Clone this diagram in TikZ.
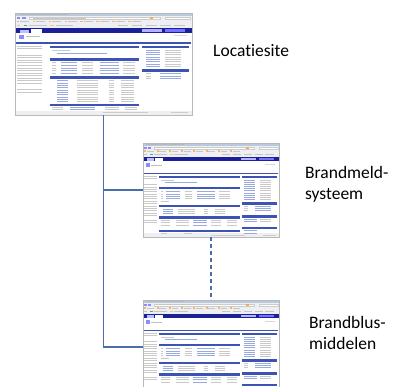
\documentclass[tikz,border=0pt]{standalone}
\usepackage{fontspec}
\setmainfont{Carlito}[Ligatures=NoCommon]
\definecolor{navy}{HTML}{1B2096}
\definecolor{hdr}{HTML}{3C52B5}
\definecolor{conn}{HTML}{4A6EAA}
\definecolor{titleb}{HTML}{B9C9DE}
\definecolor{toolb}{HTML}{EDEFF3}
\definecolor{lnk}{HTML}{7F95D6}
\tikzset{
  txt/.style={fill=gray!42},
  lk/.style={fill=lnk!80},
  hd/.style={fill=hdr},
  pagebox/.style={draw=none, inner sep=0pt, outer sep=0pt, anchor=north west},
  lbl/.style={inner sep=0pt, align=left, anchor=west, font=\fontsize{17.5}{21}\selectfont},
  connector/.style={draw=conn, line width=1.2pt},
  dashconnector/.style={connector, dash pattern=on 4pt off 3pt},
}
\newcommand\chrome{%
  \fill[white] (0,0) rectangle (100,100);
  \fill[titleb] (0,0) rectangle (100,3);
  \fill[gray!55] (2,1) rectangle (30,2);
  \fill[toolb] (0,3) rectangle (100,15);
  \fill[blue!45] (1,4) rectangle (3,6.3);
  \fill[blue!45] (4,4) rectangle (6,6.3);
  \filldraw[fill=white,draw=gray!40,line width=0.2pt] (8,4) rectangle (82,6.2);
  \fill[gray!45] (10,4.7) rectangle (40,5.5);
  \fill[orange!70] (76,4.3) rectangle (78,5.9);
  \filldraw[fill=white,draw=gray!40,line width=0.2pt] (85,4) rectangle (99,6.2);
  \foreach \x in {1,10,19,28,37,46,55,64}{\fill[orange!60] (\x,7.5) rectangle ++(1.5,1.8); \fill[gray!45] (\x+2,8) rectangle ++(5,0.8);}
  \fill[gray!45] (1,11.5) rectangle (3,13);
  \fill[green!40!gray] (5,11.5) rectangle (7,13);
  \fill[gray!45] (8,11.8) rectangle (18,12.7);
  \fill[orange!50] (20,11.5) rectangle (22,13);
  \fill[gray!45] (23,11.8) rectangle (33,12.7);
  \foreach \x in {58,66,74,82,90}{\fill[gray!45] (\x,11.8) rectangle ++(6,0.9);}
  \fill[navy] (0,15) rectangle (100,19.5);
  \fill[blue!25] (3,16.3) rectangle (8,19.5);
  \fill[white] (9,15.8) rectangle (15,19.5);
  \fill[blue!30!white] (72,16) rectangle (83,18.6);
  \fill[blue!55] (85,16) rectangle (96,18.6);
  \fill[blue!45] (2,21.5) rectangle (5,25.5);
  \fill[gray!50] (6,23) rectangle (14,24);
  \fill[gray!30] (90,22) rectangle (97,23);
  \fill[toolb] (0,96) rectangle (100,100);
  \fill[gray!40] (50,97.5) rectangle (75,98.5);
  \fill[gray!40] (88,97.5) rectangle (98,98.5);
}
\newcommand\frameit{\draw[gray!55, line width=0.3pt] (0,0) rectangle (100,100);}
% overview page
\newcommand\overviewpage[4]{%
\begin{scope}[shift={(#1,#2)}, xscale=#3/100, yscale=#4/100]
  \chrome
  \fill[hd] (0.5,28.5) rectangle (99.5,30.5);
  \foreach \y in {32,34.5,41,43.5,46,48.5,51,53.5,56,58.5,61,63.5,66,68.5,75,77.5}{\fill[txt] (1,\y) rectangle ++(14,0.9);}
  \foreach \y in {32,44,62,89}{\fill[hd] (20,\y) rectangle (70,\y+2.6);}
  \foreach \y in {32,55}{\fill[hd] (72,\y) rectangle (98.5,\y+2.6);}
  % section 1
  \fill[txt] (21,36.5) rectangle ++(10,0.9);
  \fill[lk] (24,39) rectangle ++(28,0.9);
  % section 2
  \foreach \y in {48,51,53.5,56,58.5}{%
    \fill[txt] (21,\y) rectangle ++(2,0.9);
    \fill[lk] (26,\y) rectangle ++(9,0.9);
    \fill[txt] (38,\y) rectangle ++(6,0.9);
    \fill[lk] (48,\y) rectangle ++(11,0.9);
    \fill[txt] (61,\y) rectangle ++(7,0.9);}
  % section 3
  \foreach \y in {66,68.3,70.6,72.9,75.2,77.5,79.8,82.1,84.4,86.7}{%
    \fill[lk] (24,\y) rectangle ++(6,0.9);
    \fill[txt] (35,\y) rectangle ++(12,0.9);
    \fill[txt] (53,\y) rectangle ++(3,0.9);
    \fill[txt] (60,\y) rectangle ++(7,0.9);}
  % section 4
  \foreach \y in {92.5,94.5}{%
    \fill[txt] (21,\y) rectangle ++(6,0.9);
    \fill[lk] (31,\y) rectangle ++(14,0.9);
    \fill[txt] (51,\y) rectangle ++(8,0.9);
    \fill[txt] (62,\y) rectangle ++(7,0.9);}
  % right column
  \foreach \y in {36,38.3,40.6,42.9,45.2,47.5,49.8,52.1}{%
    \fill[lk] (74,\y) rectangle ++(8,0.9);
    \fill[txt] (85,\y) rectangle ++(9,0.9);}
  \foreach \y in {59,61.3,63.6}{%
    \fill[txt] (74,\y) rectangle ++(3,0.9);
    \fill[lk] (82,\y) rectangle ++(12,0.9);}
  \frameit
\end{scope}}
% detail page
\newcommand\detailpage[4]{%
\begin{scope}[shift={(#1,#2)}, xscale=#3/100, yscale=#4/100]
  \chrome
  \fill[hd] (0.5,31.5) rectangle (99.5,33.5);
  \foreach \y in {35,37.5,44,46.5,49,51.5,54,56.5,59,61.5,64,66.5,69,71.5,74,76.5,82,84.5}{\fill[txt] (1,\y) rectangle ++(9,0.9);}
  \foreach \y in {35,46.5,66,78,92.5}{\fill[hd] (12,\y) rectangle (71,\y+2.6);}
  \foreach \y in {35,63,77,89}{\fill[hd] (72.5,\y) rectangle (98.5,\y+2.6);}
  \fill[txt] (13,39.5) rectangle ++(10,0.9);
  \fill[lk] (16,42) rectangle ++(24,0.9);
  \foreach \y in {51,54,56.5,59}{%
    \fill[txt] (13,\y) rectangle ++(2,0.9);
    \fill[lk] (17,\y) rectangle ++(10,0.9);
    \fill[txt] (31,\y) rectangle ++(5,0.9);
    \fill[lk] (40,\y) rectangle ++(13,0.9);
    \fill[txt] (56,\y) rectangle ++(8,0.9);}
  \fill[txt] (13,62) rectangle ++(6,0.9);
  \foreach \y in {70,72.5,75}{%
    \fill[lk] (15,\y) rectangle ++(7,0.9);
    \fill[txt] (26,\y) rectangle ++(12,0.9);
    \fill[txt] (45,\y) rectangle ++(3,0.9);
    \fill[txt] (53,\y) rectangle ++(7,0.9);}
  \foreach \y in {82,84.5,87}{%
    \fill[txt] (13,\y) rectangle ++(7,0.9);
    \fill[txt] (24,\y) rectangle ++(10,0.9);
    \fill[lk] (37,\y) rectangle ++(10,0.9);
    \fill[txt] (50,\y) rectangle ++(7,0.9);
    \fill[txt] (62,\y) rectangle ++(7,0.9);}
  \fill[txt] (13,95.5) rectangle ++(5,0.9);
  \fill[txt] (30,95.5) rectangle ++(6,0.9);
  \foreach \y in {39,41.3,43.6,45.9,48.2,50.5,52.8,55.1,57.4,59.7}{%
    \fill[lk] (74,\y) rectangle ++(8,0.9);
    \fill[txt] (86,\y) rectangle ++(8,0.9);}
  \foreach \y in {67,69.5,71.5}{%
    \fill[txt] (74,\y) rectangle ++(3,0.9);
    \fill[lk] (82,\y) rectangle ++(12,0.9);}
  \foreach \y in {81,83.5}{%
    \fill[lk] (74,\y) rectangle ++(10,0.9);
    \fill[txt] (86,\y) rectangle ++(8,0.9);}
  \foreach \y in {93,95.5}{%
    \fill[lk] (74,\y) rectangle ++(10,0.9);}
  \frameit
\end{scope}}
\begin{document}
\begin{tikzpicture}[x=1pt, y=-1pt]
  \clip (0,0) rectangle (405,387);
  \fill[white] (0,0) rectangle (405,387);
  % pages
  \overviewpage{15}{13}{177}{102}
  \detailpage{143}{143}{136}{94}
  \detailpage{143}{300}{136}{94}
  \node[pagebox, minimum width=177pt, minimum height=102pt] (p1) at (15,13) {};
  \node[pagebox, minimum width=136pt, minimum height=94pt] (p2) at (143,143) {};
  \node[pagebox, minimum width=136pt, minimum height=94pt] (p3) at (143,300) {};
  % connectors
  \draw[connector] (p1.south) |- (p2.west);
  \draw[connector] (p1.south) |- (p3.west);
  \draw[dashconnector] (p2.south) -- (p3.north);
  % labels
  \node[lbl] (t1) at (213,51) {Locatiesite};
  \node[lbl] (t2) at (305,184.5) {Brandmeld-\\systeem};
  \node[lbl] (t3) at (309,333) {Brandblus-\\middelen};
\end{tikzpicture}
\end{document}
